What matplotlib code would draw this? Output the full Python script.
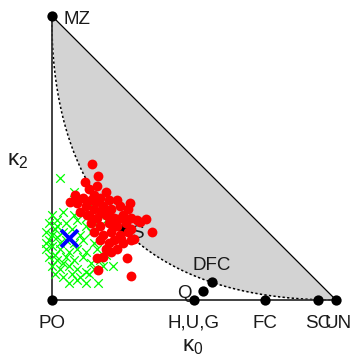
import numpy as np
import matplotlib
matplotlib.use("Agg")
import matplotlib.pyplot as plt

plt.rcParams['font.family'] = ['Liberation Sans', 'DejaVu Sans']
plt.rcParams['mathtext.fontset'] = 'custom'
plt.rcParams['mathtext.rm'] = 'Liberation Sans'
plt.rcParams['mathtext.it'] = 'Liberation Sans'

# Reference relationships (kappa0, kappa2)
ref_labels = ["PO", "MZ", "H,U,G", "FC", "SC", "UN", "S", "Q", "DFC"]
ref_k0 = [0.0, 0.0, 0.5, 0.75, 0.9375, 1.0, 0.25, 17/32, 9/16]
ref_k2 = [0.0, 1.0, 0.0, 0.0, 0.0, 0.0, 0.25, 1/32, 1/16]

# Estimated pairs: red group
red_k0 = [0.142, 0.163, 0.117, 0.275, 0.265, 0.279, 0.353, 0.311, 0.163, 0.159, 0.082, 0.064,
          0.13, 0.16, 0.19, 0.15,
          0.11, 0.14, 0.17, 0.20, 0.23, 0.09,
          0.12, 0.15, 0.18, 0.21, 0.24, 0.27, 0.10,
          0.13, 0.16, 0.19, 0.22, 0.25, 0.28, 0.30, 0.33,
          0.14, 0.17, 0.20, 0.23, 0.26, 0.28,
          0.15, 0.18, 0.21, 0.24, 0.27, 0.29,
          0.17, 0.20, 0.22, 0.25, 0.28,
          0.19, 0.21, 0.23, 0.18,
          0.175, 0.205, 0.235, 0.26, 0.155, 0.125, 0.215, 0.245]
red_k2 = [0.478, 0.436, 0.415, 0.341, 0.148, 0.084, 0.239, 0.274, 0.106, 0.148, 0.369, 0.345,
          0.39, 0.40, 0.38, 0.37,
          0.36, 0.35, 0.36, 0.35, 0.35, 0.34,
          0.33, 0.32, 0.33, 0.32, 0.33, 0.32, 0.31,
          0.30, 0.29, 0.30, 0.29, 0.30, 0.29, 0.28, 0.285,
          0.27, 0.26, 0.27, 0.26, 0.27, 0.25,
          0.24, 0.23, 0.24, 0.23, 0.24, 0.215,
          0.21, 0.20, 0.21, 0.20, 0.21,
          0.18, 0.17, 0.18, 0.15,
          0.31, 0.315, 0.285, 0.28, 0.345, 0.30, 0.255, 0.215]

# Estimated pairs: green group
green_k0 = [0.03, 0.08, 0.163, 0.215, 0.17, 0.13,
            0.00, 0.04, 0.08, 0.12, 0.15,
            -0.01, 0.02, 0.05, 0.09, 0.12, 0.16, 0.19,
            -0.02, 0.01, 0.04, 0.07, 0.10, 0.14, 0.17,
            -0.01, 0.02, 0.05, 0.08, 0.11, 0.15, 0.18,
            -0.02, 0.00, 0.03, 0.06, 0.09, 0.12, 0.16, 0.19,
            -0.01, 0.02, 0.05, 0.08, 0.11, 0.14, 0.17,
            0.00, 0.03, 0.06, 0.09, 0.12, 0.15, 0.18,
            0.01, 0.04, 0.07, 0.10, 0.13,
            0.06, 0.09, 0.12,
            0.00, 0.01, 0.03, -0.02, 0.02, 0.04]
green_k2 = [0.43, 0.38, 0.06, 0.12, 0.30, 0.34,
            0.30, 0.31, 0.30, 0.29, 0.31,
            0.27, 0.28, 0.27, 0.28, 0.26, 0.27, 0.28,
            0.24, 0.25, 0.24, 0.25, 0.23, 0.24, 0.23,
            0.21, 0.22, 0.21, 0.20, 0.21, 0.20, 0.21,
            0.18, 0.19, 0.18, 0.17, 0.18, 0.17, 0.18, 0.16,
            0.15, 0.14, 0.15, 0.14, 0.15, 0.13, 0.14,
            0.12, 0.11, 0.12, 0.11, 0.10, 0.11, 0.12,
            0.09, 0.08, 0.09, 0.08, 0.09,
            0.06, 0.07, 0.06,
            0.23, 0.16, 0.20, 0.20, 0.26, 0.13]

# Highlighted estimate (blue)
blue_k0 = [0.062]
blue_k2 = [0.218]

W, H = 352, 357
fig = plt.figure(figsize=(W/100, H/100), dpi=100)
ax = fig.add_axes([0, 0, 1, 1])
ax.set_xlim(-0.1818, 1.0563)
ax.set_ylim(-0.2005, 1.0552)
ax.axis('off')

# impossible region
x = np.linspace(0, 1, 400)
curve = (1 - np.sqrt(x))**2
ax.fill_between(x, curve, 1 - x, color='#D3D3D3', lw=0, zorder=1)
ax.plot(x, curve, color='black', ls=(0, (1.5, 1.5)), lw=1.1, zorder=2)
ax.plot([0, 1], [1, 0], color='black', lw=0.9, zorder=2)
ax.plot([0, 0], [0, 1], color='#333333', lw=1.3, zorder=2)
ax.plot([0, 1], [0, 0], color='#333333', lw=1.3, zorder=2)

tc = '#1a1a1a'
fs = 13.5
# S label (behind points)
ax.annotate("S", (0.25, 0.25), xytext=(8, -9), textcoords='offset pixels',
            ha='left', va='baseline', fontsize=fs, color=tc, zorder=2)

# reference relationship points (below the estimate points)
ax.scatter(ref_k0, ref_k2, marker='o', s=55, color='black', linewidths=0, zorder=2.5)

ax.scatter(green_k0, green_k2, marker='x', s=38, color='#00FF00', linewidths=0.9, zorder=3)
ax.scatter(red_k0, red_k2, marker='o', s=50, color='#FF0000', linewidths=0, zorder=4)
ax.scatter(blue_k0, blue_k2, marker='x', s=150, color='#0000FF', linewidths=2.8, zorder=5)

offsets = {
    "PO": ((0, -28), 'center'),
    "MZ": ((12, -8), 'left'),
    "H,U,G": ((0, -28), 'center'),
    "FC": ((0, -28), 'center'),
    "SC": ((0, -28), 'center'),
    "UN": ((2, -28), 'center'),
    "Q": ((-11, -7), 'right'),
    "DFC": ((0, 12), 'center'),
}
for lab, k0, k2 in zip(ref_labels, ref_k0, ref_k2):
    if lab == "S":
        continue
    off, ha = offsets[lab]
    ax.annotate(lab, (k0, k2), xytext=off, textcoords='offset pixels',
                ha=ha, va='baseline', fontsize=fs, color=tc, zorder=7)

ax.text(-0.12, 0.49, r'$\kappa_2$', fontsize=16, color=tc, ha='center', va='center')
ax.text(0.495, -0.163, r'$\kappa_0$', fontsize=16, color=tc, ha='center', va='center')

fig.savefig('out.png', dpi=100)
